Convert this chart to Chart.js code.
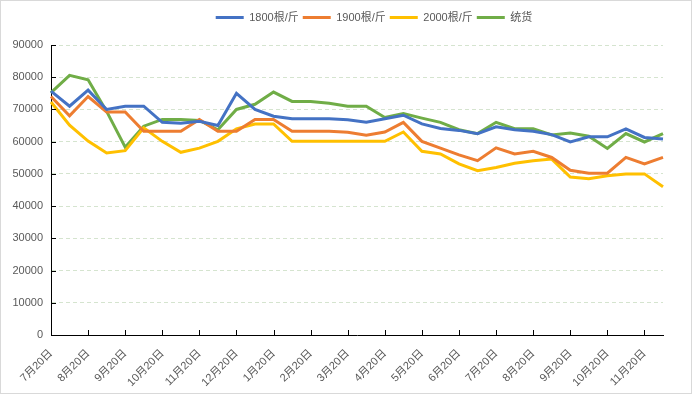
<!DOCTYPE html>
<html>
<head>
<meta charset="utf-8">
<script src="https://cdn.jsdelivr.net/npm/chart.js@4"></script>
<style>
  html, body { margin: 0; padding: 0; background: #fff; }
  #wrap { width: 690px; height: 392px; border: 1px solid #d9d9d9; }
</style>
</head>
<body>
<div id="wrap"><canvas id="grafico"></canvas></div>
<script>
// dados (meio mês entre cada ponto)
const datas = ['7月20日','8月5日','8月20日','9月5日','9月20日','10月5日','10月20日','11月5日','11月20日','12月5日',
  '12月20日','1月5日','1月20日','2月5日','2月20日','3月5日','3月20日','4月5日','4月20日','5月5日',
  '5月20日','6月5日','6月20日','7月5日','7月20日','8月5日','8月20日','9月5日','9月20日','10月5日',
  '10月20日','11月5日','11月20日','12月5日']

const s1800 = [75700, 71000, 76000, 70000, 71000, 71000, 66000, 65700, 66300, 65000,
  75000, 70000, 67900, 67100, 67100, 67100, 66800, 66000, 67100, 68200,
  65500, 64100, 63500, 62500, 64600, 63700, 63200, 62200, 59900, 61500,
  61500, 64000, 61300, 60800]

const s1900 = [74000, 68000, 74000, 69200, 69200, 63200, 63200, 63200, 66900, 63200,
  63200, 66900, 66900, 63200, 63200, 63200, 62900, 62000, 63000, 66000,
  60100, 58000, 55900, 54100, 58100, 56200, 57000, 55100, 51100, 50200,
  50200, 55100, 53100, 55100]

const s2000 = [72300, 65100, 60200, 56500, 57200, 64300, 60100, 56700, 58000, 60100,
  64000, 65500, 65500, 60100, 60100, 60100, 60100, 60100, 60100, 63000,
  57000, 56200, 53100, 51000, 52000, 53300, 54100, 54600, 49000, 48500,
  49400, 50000, 50000, 46000]

const tonghuo = [75200, 80600, 79200, 69400, 58300, 64800, 66900, 66900, 66600, 63700,
  70000, 71600, 75400, 72500, 72500, 71900, 71000, 71000, 67500, 68700,
  67300, 66000, 63700, 62500, 66000, 64000, 64000, 62100, 62700, 61700,
  57900, 62500, 59900, 62500]

Chart.defaults.font.family = "'Liberation Sans', 'Noto Sans CJK SC', sans-serif"
Chart.defaults.font.size = 11
Chart.defaults.color = '#595959'

// marcas dos eixos para dentro, como no Excel
const marcas = {
  id: 'marcas',
  afterDraw(chart) {
    const { ctx, chartArea, scales: { x, y } } = chart
    ctx.save()
    ctx.strokeStyle = '#000'
    ctx.lineWidth = 1
    ctx.beginPath()
    x.ticks.forEach((t, i) => {
      if (i % 2 !== 0) return
      const px = Math.round(x.getPixelForTick(i)) + 0.5
      ctx.moveTo(px, chartArea.bottom)
      ctx.lineTo(px, chartArea.bottom - 5)
    })
    y.ticks.forEach((t, i) => {
      const py = Math.round(y.getPixelForTick(i)) + 0.5
      ctx.moveTo(chartArea.left, py)
      ctx.lineTo(chartArea.left + 5, py)
    })
    ctx.stroke()
    ctx.restore()
  }
}

// espaço extra abaixo da legenda e legenda um pouco à direita
const espacoLegenda = {
  id: 'espacoLegenda',
  beforeInit(chart) {
    const fit = chart.legend.fit
    chart.legend.fit = function () {
      fit.bind(chart.legend)()
      this.height += 12
    }
  },
  afterLayout(chart) {
    chart.legend.left += 42
    chart.legend.right += 42
  }
}

const serie = (label, data, color) => ({
  label, data,
  borderColor: color,
  backgroundColor: color,
  borderWidth: 3,
  pointRadius: 0,
  tension: 0
})

const ctx = document.getElementById('grafico')

new Chart(ctx, {
  type: 'line',
  data: {
    labels: datas,
    datasets: [
      serie('1800根/斤', s1800, '#4472C4'),
      serie('1900根/斤', s1900, '#ED7D31'),
      serie('2000根/斤', s2000, '#FFC000'),
      serie('统货', tonghuo, '#70AD47')
    ]
  },
  options: {
    responsive: true,
    maintainAspectRatio: false,
    animation: false,
    layout: { padding: { top: 7, right: 28, left: 0, bottom: 0 } },
    plugins: {
      legend: {
        position: 'top',
        labels: {
          usePointStyle: true,
          pointStyle: 'line',
          pointStyleWidth: 28,
          boxWidth: 28,
          padding: 4,
          color: '#595959',
          font: { size: 11 }
        }
      },
      tooltip: { enabled: false }
    },
    scales: {
      x: {
        offset: false,
        grid: { display: false },
        border: { display: true, color: '#000', width: 1 },
        ticks: {
          autoSkip: false,
          maxRotation: 45,
          minRotation: 45,
          padding: 4,
          callback: function (v, i) { return i % 2 === 0 ? this.getLabelForValue(v) : '' }
        },
        afterFit: s => { s.height = 58 }
      },
      y: {
        min: 0,
        max: 90000,
        ticks: { stepSize: 10000, padding: 8, callback: v => String(v) },
        grid: { color: '#d5e4cf', drawTicks: false },
        border: { display: true, color: '#000', width: 1, dash: [4, 3] },
        afterFit: s => { s.width = 50 }
      }
    }
  },
  plugins: [marcas, espacoLegenda]
})
</script>
</body>
</html>
